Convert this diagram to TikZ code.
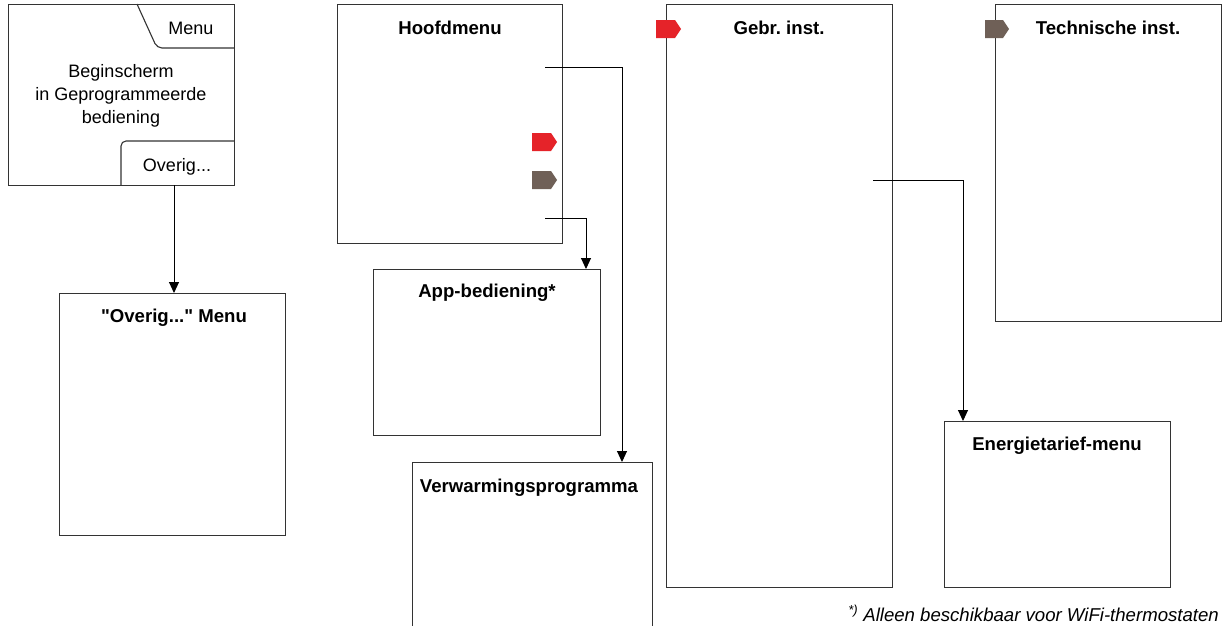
\documentclass[tikz,border=0pt]{standalone}
\usepackage{fontspec}
\setmainfont{Liberation Sans}
\newfontfamily\qfont{Liberation Sans}
\usetikzlibrary{arrows.meta}
\definecolor{tagred}{HTML}{E52329}
\definecolor{taggray}{HTML}{6F6057}
\definecolor{boxline}{HTML}{333333}
\frenchspacing
\begin{document}
\begin{tikzpicture}[x=1pt,y=-1pt,
  box/.style={draw=boxline,line width=1.1pt,inner sep=0pt,anchor=north west},
  conn/.style={draw=black,line width=1pt,-{Triangle[length=11pt,width=10pt]}},
  ttl/.style={font=\fontsize{18.6}{22}\selectfont\bfseries,anchor=base,inner sep=0pt},
  txt/.style={font=\fontsize{18}{22}\selectfont,anchor=base,inner sep=0pt},
  tagr/.style={fill=tagred},
  tagg/.style={fill=taggray}]
\useasboundingbox (0,0) rectangle (1224,625);
\clip (0,0) rectangle (1224,625);
\fill[white] (0,0) rectangle (1224,625);

% Beginscherm box
\node[box,minimum width=226pt,minimum height=181pt] (begin) at (8,4) {};
\draw[boxline,line width=1.1pt,rounded corners=5pt] (137,4) -- (157,48) -- (234,48);
\draw[boxline,line width=1.1pt,rounded corners=5pt] (121,185) -- (121,141) -- (234,141);
\node[txt] (menu) at (191,34) {Menu};
\node[txt] (b1) at (121,77) {Beginscherm};
\node[txt] (b2) at (121,100) {in Geprogrammeerde};
\node[txt] (b3) at (121,123) {bediening};
\node[txt] (ovtab) at (177,171) {Overig...};
\coordinate (ovout) at (174,185);

% Overig menu
\node[box,minimum width=226pt,minimum height=242pt] (ovm) at (59,293) {};
\node[ttl] (ovmt) at (174,322) {{\qfont\char34}Overig...{\qfont\char34} Menu};
\draw[conn] (ovout) -- (ovout |- ovm.north);

% Hoofdmenu
\node[box,minimum width=225pt,minimum height=239pt] (hoof) at (337,4) {};
\node[ttl] (hooft) at (450,34) {Hoofdmenu};
\path[tagr] (532,133) -- (551,133) -- (557,142) -- (551,151) -- (532,151) -- cycle;
\path[tagg] (532,171) -- (551,171) -- (557,180) -- (551,189) -- (532,189) -- cycle;
\coordinate (h1) at (545,67);
\coordinate (h2) at (545,218);
\coordinate (vx) at (622,0);
\coordinate (ax) at (586,0);

% App-bediening
\node[box,minimum width=227pt,minimum height=166pt] (app) at (373,269) {};
\node[ttl] (appt) at (487,297) {App-bediening*};

% Verwarmingsprogramma
\node[box,minimum width=240pt,minimum height=200pt] (verw) at (412,462) {};
\node[ttl] (verwt) at (529,492) {Verwarmingsprogramma};

\draw[conn] (h1) -| (vx |- verw.north);
\draw[conn] (h2) -| (ax |- app.north);

% Gebr. inst.
\node[box,minimum width=226pt,minimum height=583pt] (gebr) at (666,4) {};
\node[ttl] (gebrt) at (779,34) {Gebr. inst.};
\path[tagr] (656,20) -- (675,20) -- (681,29) -- (675,38) -- (656,38) -- cycle;
\coordinate (g1) at (873,180);
\coordinate (ex) at (963,0);

% Technische inst.
\node[box,minimum width=226pt,minimum height=317pt] (tech) at (995,4) {};
\node[ttl] (techt) at (1108,34) {Technische inst.};
\path[tagg] (985,20) -- (1003,20) -- (1009,29) -- (1003,38) -- (985,38) -- cycle;

% Energietarief-menu
\node[box,minimum width=226pt,minimum height=166pt] (ener) at (944,421) {};
\node[ttl] (enert) at (1057,450) {Energietarief-menu};
\draw[conn] (g1) -| (ex |- ener.north);

% footnote
\node[txt,anchor=base east,font=\fontsize{18.6}{22}\selectfont\itshape] (foot) at (1219,621) {\textsuperscript{*)} Alleen beschikbaar voor WiFi-thermostaten};
\end{tikzpicture}
\end{document}
